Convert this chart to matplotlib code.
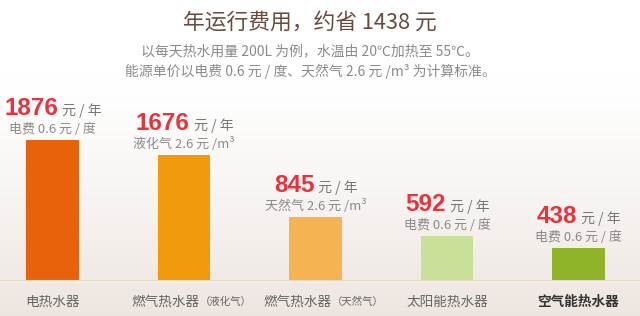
import numpy as np
import matplotlib.pyplot as plt

plt.rcParams['font.family'] = ['Noto Sans CJK SC', 'DejaVu Sans']

categories = ['电热水器', '燃气热水器', '燃气热水器', '太阳能热水器', '空气能热水器']
suffixes = ['', '（液化气）', '（天然气）', '', '']
costs = [1876, 1676, 845, 592, 438]
price_notes = ['电费 0.6 元 / 度', '液化气 2.6 元 /m³', '天然气 2.6 元 /m³',
               '电费 0.6 元 / 度', '电费 0.6 元 / 度']
colors = ['#e8620b', '#f19a0c', '#f5b352', '#c9e098', '#8fb42a']

title = '年运行费用，约省 1438 元'
sub1 = '以每天热水用量 200L 为例，水温由 20℃加热至 55℃。'
sub2 = '能源单价以电费 0.6 元 / 度、天然气 2.6 元 /m³ 为计算标准。'

W, H = 640, 316
fig = plt.figure(figsize=(W / 100, H / 100), dpi=100)

# 背景渐变
bg = fig.add_axes([0, 0, 1, 1])
grad = np.linspace(0, 1, 256)
grad = np.clip((grad - 0.25) / 0.75, 0, 1) ** 1.2
top = np.array([1.0, 1.0, 1.0])
bot = np.array([0.93, 0.90, 0.88])
img = top[None, :] * (1 - grad[:, None]) + bot[None, :] * grad[:, None]
bg.imshow(img[:, None, :], aspect='auto', extent=[0, 1, 0, 1])
bg.axis('off')

base = (H - 281) / H
ax = fig.add_axes([0, base, 1, 1 - base])
ax.patch.set_alpha(0)
x = np.arange(len(costs))
ax.bar(x, costs, width=0.4, color=colors)
ax.set_xlim(-0.399, 4.468)
ax.set_ylim(0, 281 * 13.3)
ax.axis('off')

nums, units = [], []
for i, (c, note) in enumerate(zip(costs, price_notes)):
    ax.annotate(note, (i, c), xytext=(0, 4), textcoords='offset pixels',
                ha='center', va='bottom', fontsize=9.4, color='#8a8a8a')
    n = ax.annotate(str(c), (i, c), xytext=(0, 25), textcoords='offset pixels',
                    ha='left', va='baseline', fontsize=17.5, fontweight='bold',
                    color='#e8323c', family='Liberation Sans')
    u = ax.annotate(' 元 / 年', (i, c), xytext=(0, 25), textcoords='offset pixels',
                    ha='left', va='baseline', fontsize=10, color='#777777')
    nums.append(n)
    units.append(u)

# 数字和单位整体居中
fig.canvas.draw()
r = fig.canvas.get_renderer()
for n, u in zip(nums, units):
    wn = n.get_window_extent(r).width
    wu = u.get_window_extent(r).width
    left = -(wn + wu) / 2
    n.xyann = (left, 25)
    u.xyann = (left + wn + 1, 25)

# 底线
fig.add_artist(plt.Line2D([0, 1], [base, base], color='#e6d9c4', lw=1.5))
fig.add_artist(plt.Line2D([0, 1], [base - 0.004, base - 0.004], color='#f3ece2', lw=1.5))

ly = (H - 302) / H
for i, (cat, suf) in enumerate(zip(categories, suffixes)):
    xc = 52.5 + 131.5 * i
    col = '#333333' if i == 4 else '#666666'
    if suf:
        fig.text((xc + 16) / W, ly, cat, ha='right', va='center', fontsize=9.8, color=col)
        fig.text((xc + 16) / W, ly, suf, ha='left', va='center', fontsize=7.5, color=col)
    else:
        fig.text(xc / W, ly, cat, ha='center', va='center', fontsize=9.8, color=col,
                 fontweight='bold' if i == 4 else 'normal')

fig.text(310 / W, (H - 23) / H, title, ha='center', va='center', fontsize=15.7, color='#6a4a3c')
fig.text(310 / W, (H - 51) / H, sub1, ha='center', va='center', fontsize=10, color='#8a8a8a')
fig.text(310 / W, (H - 71) / H, sub2, ha='center', va='center', fontsize=10, color='#8a8a8a')

fig.savefig('out.png', dpi=100)
